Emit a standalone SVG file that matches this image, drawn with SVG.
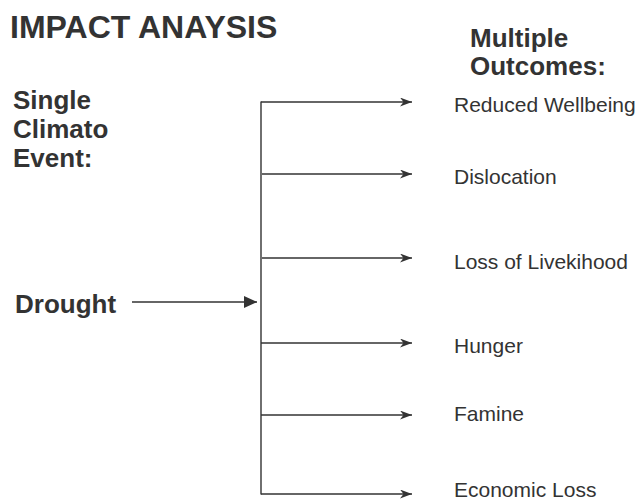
<svg xmlns="http://www.w3.org/2000/svg" width="639" height="501" viewBox="0 0 639 501">
<style>
text{font-family:"Liberation Sans",Arial,sans-serif;fill:#333}
.title{font-size:32px;font-weight:bold}
.head{font-size:26px;font-weight:bold}
.lab{font-size:21px}
.ln{stroke:#333;stroke-width:1.4;fill:none}
</style>
<defs>
<marker id="barb" markerUnits="userSpaceOnUse" markerWidth="12" markerHeight="9" refX="12" refY="4.5" orient="auto" viewBox="0 0 12 9">
<path d="M0,0 L12,4.5 L0,9 L3.5,4.5 Z" fill="#333"/>
</marker>
<marker id="tri" markerUnits="userSpaceOnUse" markerWidth="13" markerHeight="12" refX="13" refY="6" orient="auto" viewBox="0 0 13 12">
<path d="M0,0 L13,6 L0,12 Z" fill="#333"/>
</marker>
</defs>
<g id="title"><text class="title" x="10" y="38">IMPACT ANAYSIS</text></g>
<g id="single-event"><text class="head" x="13" y="109">Single</text><text class="head" x="13" y="138">Climato</text><text class="head" x="13" y="167">Event:</text></g>
<g id="multiple-outcomes"><text class="head" x="470" y="47">Multiple</text><text class="head" x="470" y="75">Outcomes:</text></g>
<g id="drought"><text class="head" x="15" y="313">Drought</text></g>
<g id="reduced-wellbeing"><text class="lab" x="454" y="112">Reduced Wellbeing</text></g>
<g id="dislocation"><text class="lab" x="454" y="184">Dislocation</text></g>
<g id="loss-livelihood"><text class="lab" x="454" y="269">Loss of Livekihood</text></g>
<g id="hunger"><text class="lab" x="454" y="353">Hunger</text></g>
<g id="famine"><text class="lab" x="454" y="421">Famine</text></g>
<g id="economic-loss"><text class="lab" x="454" y="497">Economic Loss</text></g>
<g id="connectors">
<line class="ln" x1="132" y1="302" x2="257" y2="302" marker-end="url(#tri)"/>
<line class="ln" x1="261" y1="101.5" x2="261" y2="494.5"/>
<line class="ln" x1="261" y1="102" x2="412" y2="102" marker-end="url(#barb)"/>
<line class="ln" x1="262" y1="174" x2="412" y2="174" marker-end="url(#barb)"/>
<line class="ln" x1="262" y1="258" x2="412" y2="258" marker-end="url(#barb)"/>
<line class="ln" x1="261" y1="343" x2="412" y2="343" marker-end="url(#barb)"/>
<line class="ln" x1="261" y1="415" x2="412" y2="415" marker-end="url(#barb)"/>
<line class="ln" x1="261" y1="494" x2="412" y2="494" marker-end="url(#barb)"/>
</g>
</svg>
